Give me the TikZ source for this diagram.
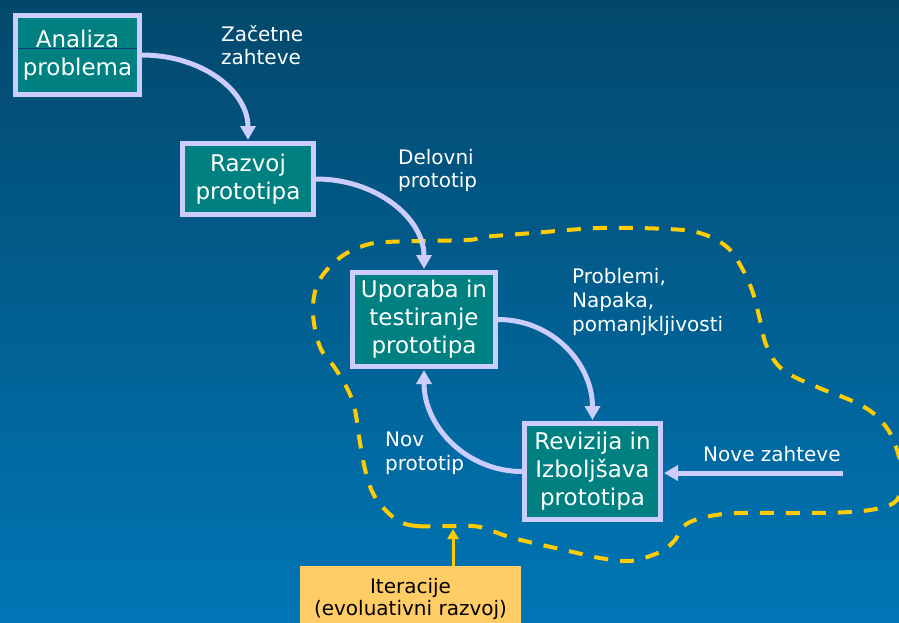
\documentclass[tikz,border=0pt]{standalone}
\usepackage{fontspec}
\setmainfont{DejaVu Sans}
\usetikzlibrary{arrows.meta,calc}

\definecolor{bgtop}{RGB}{3,72,108}
\definecolor{bgbot}{RGB}{0,118,182}
\definecolor{boxfill}{RGB}{0,128,128}
\definecolor{lav}{RGB}{204,204,255}
\definecolor{gold}{RGB}{255,204,0}
\definecolor{note}{RGB}{255,204,102}
\definecolor{seam}{RGB}{20,60,120}

\tikzset{
  stepbox/.style={draw=lav, line width=5pt, fill=boxfill, text=white,
    inner sep=0pt, align=center, font=\fontsize{23}{28}\selectfont},
  flow/.style={draw=lav, line width=5pt, -{Triangle[width=15pt,length=14pt]}, shorten >=1pt},
  % labels are placed by the baseline of their last line
  lbl/.style={text=white, anchor=base west, align=left, inner sep=0pt,
    font=\fontsize{20}{23}\selectfont},
  lblwide/.style={lbl, font=\fontsize{20}{24}\selectfont},
  loop/.style={draw=gold, line width=4pt, dash pattern=on 14pt off 12pt},
  notebox/.style={fill=note, text=black, inner sep=0pt, align=center,
    font=\fontsize{20}{22}\selectfont},
  pointer/.style={draw=gold, line width=3pt, -{Triangle[width=11pt,length=10pt]}},
}

\begin{document}
\begin{tikzpicture}[x=1pt,y=-1pt]
  % background
  \shade[top color=bgtop, bottom color=bgbot] (0,0) rectangle (899,622);
  \useasboundingbox (0,0) rectangle (899,622);

  % iteration loop
  \begin{scope}
    \clip (0,0) rectangle (899,622);
    \draw[loop] plot[smooth cycle, tension=0.6] coordinates {
      (453,526) (417,526) (397,520) (377,500) (367,477) (360,443) (355,410)
      (348,390) (335,368) (320,347) (313,313) (318,283) (337,260) (360,247)
      (387,242) (467,240) (483,237) (533,233) (600,228) (667,229) (700,233)
      (727,247) (743,270) (753,293) (760,320) (767,347) (783,370) (817,387)
      (850,400) (873,413) (890,433) (900,460) (903,480) (897,500) (880,508)
      (850,512) (800,513) (740,513) (710,516) (690,522) (680,530) (675,540)
      (660,552) (630,561) (600,558) (573,552) (513,538) (480,527)};
  \end{scope}

  % process steps
  \node[stepbox, minimum width=124pt, minimum height=79pt,
    path picture={\draw[seam, line width=1pt]
      ($(path picture bounding box.west)+(0pt,7pt)$) --
      ($(path picture bounding box.east)+(0pt,7pt)$);}]
    (ana) at (77.5,55) {Analiza\\problema};
  \node[stepbox, minimum width=131pt, minimum height=71pt] (raz) at (248,179) {Razvoj\\prototipa};
  \node[stepbox, minimum width=143pt, minimum height=94pt] (upo) at (424,319.5) {Uporaba in\\testiranje\\prototipa};
  \node[stepbox, minimum width=136pt, minimum height=96pt] (rev) at (592.5,471.5) {Revizija in\\Izboljšava\\prototipa};

  % note box
  \node[notebox, anchor=north, minimum width=221pt, minimum height=65pt] (it) at (410.5,566)
    {Iteracije\\(evoluativni razvoj)};

  % flows
  \draw[flow] (ana.east) .. controls +(60,0) and +(0,-50) .. (raz.north);
  \draw[flow] (raz.east) .. controls +(60,0) and +(0,-52) .. (upo.north);
  \draw[flow] (upo.east) .. controls +(55,0) and +(0,-57) .. (rev.north);
  \draw[flow] (rev.west) .. controls +(-55,0) and +(0,58) .. (upo.south);
  \coordinate (nzs) at (843,473);
  \draw[flow] (nzs) -- (nzs -| rev.east);
  \coordinate (itt) at (453,529);
  \draw[pointer] (it.north -| itt) -- (itt);

  % labels
  \node[lbl] (lz) at (221,64) {Začetne\\zahteve};
  \node[lbl] (ld) at (398,187) {Delovni\\prototip};
  \node[lblwide] (lp) at (572,331) {Problemi,\\Napaka,\\pomanjkljivosti};
  \node[lblwide] (ln) at (385,470) {Nov\\prototip};
  \node[lbl] (lnz) at (703,461) {Nove zahteve};
\end{tikzpicture}
\end{document}
